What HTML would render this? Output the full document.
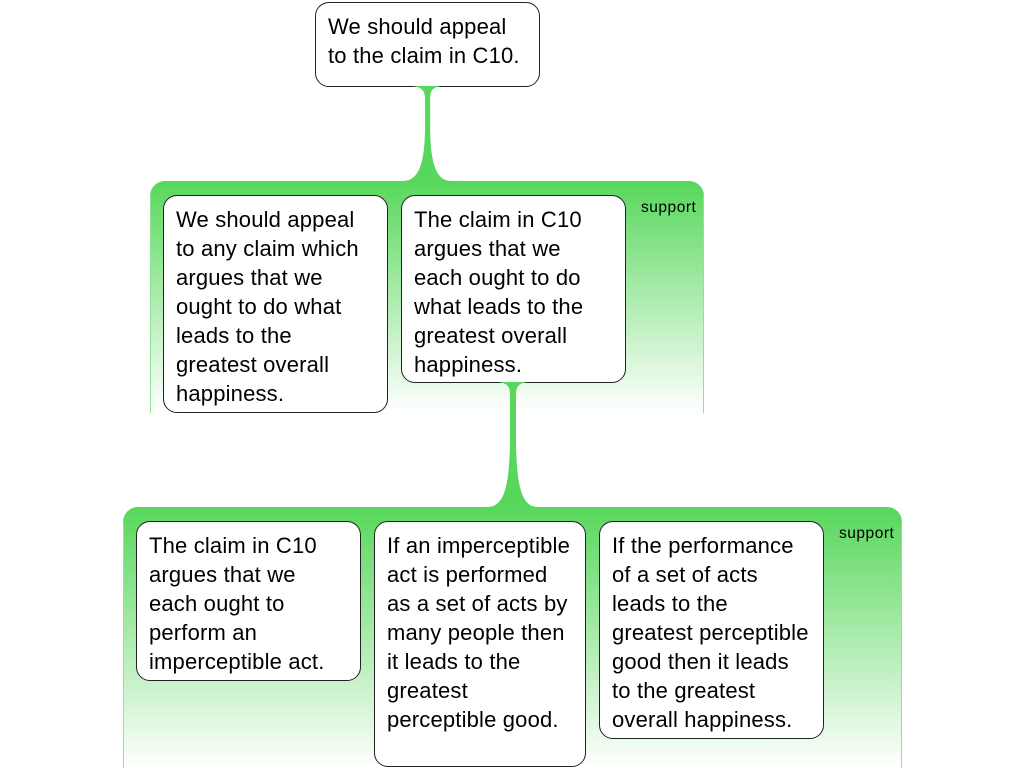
<!DOCTYPE html>
<html>
<head>
<meta charset="utf-8">
<style>
html,body{margin:0;padding:0;background:#fff;width:1024px;height:768px;overflow:hidden}
body{position:relative;font-family:"Liberation Sans",sans-serif;color:#000}
.group{position:absolute;box-sizing:border-box;border-radius:15px 15px 0 0;background:linear-gradient(to bottom,#57d75b 0%,#ffffff 100%)}
.line{position:absolute;width:1px;background:#8fe492}
.card{position:absolute;box-sizing:border-box;background:#fff;border:1px solid #222;border-radius:14px;padding:9px 12px;font-size:22px;line-height:29px;letter-spacing:.17px;white-space:nowrap}
.tag{position:absolute;font-size:15.5px;line-height:17px;letter-spacing:.52px;white-space:nowrap}
svg{position:absolute;left:0;top:0}
</style>
</head>
<body>
<div class="group" style="left:150px;top:181px;width:554px;height:232px"></div>
<div class="line" style="left:150px;top:196px;height:217px"></div>
<div class="line" style="left:703px;top:196px;height:217px"></div>
<div class="group" style="left:123px;top:507px;width:779px;height:261px"></div>
<div class="line" style="left:123px;top:522px;height:246px"></div>
<div class="line" style="left:901px;top:522px;height:246px"></div>
<div class="card" style="left:315px;top:2px;width:225px;height:85px">We should appeal<br>to the claim in C10.</div>
<div class="card" style="left:163px;top:195px;width:225px;height:218px">We should appeal<br>to any claim which<br>argues that we<br>ought to do what<br>leads to the<br>greatest overall<br>happiness.</div>
<div class="card" style="left:401px;top:195px;width:225px;height:188px">The claim in C10<br>argues that we<br>each ought to do<br>what leads to the<br>greatest overall<br>happiness.</div>
<div class="tag" style="left:641px;top:199px">support</div>
<div class="card" style="left:136px;top:521px;width:225px;height:160px">The claim in C10<br>argues that we<br>each ought to<br>perform an<br>imperceptible act.</div>
<div class="card" style="left:374px;top:521px;width:212px;height:246px">If an imperceptible<br>act is performed<br>as a set of acts by<br>many people then<br>it leads to the<br>greatest<br>perceptible good.</div>
<div class="card" style="left:599px;top:521px;width:225px;height:218px">If the performance<br>of a set of acts<br>leads to the<br>greatest perceptible<br>good then it leads<br>to the greatest<br>overall happiness.</div>
<div class="tag" style="left:839px;top:525px">support</div>
<svg width="1024" height="768" viewBox="0 0 1024 768">
<path fill="#57d75b" d="M413 86H441C434 87.500 430.300 89 430.200 98L430.200 130C430.500 165 437 181 451 181V182H403V181C418 181 424.500 165 425 130L425 98C424.800 89 420 87.500 413 86Z"/>
<path fill="#57d75b" d="M499 382H527C520 383.500 516.200 385 516 394L516 440C516.500 490 523 507 538 507V508H487V507C503 507 509.500 490 510 440L510 394C509.800 385 506 383.500 499 382Z"/>
</svg>
</body>
</html>
